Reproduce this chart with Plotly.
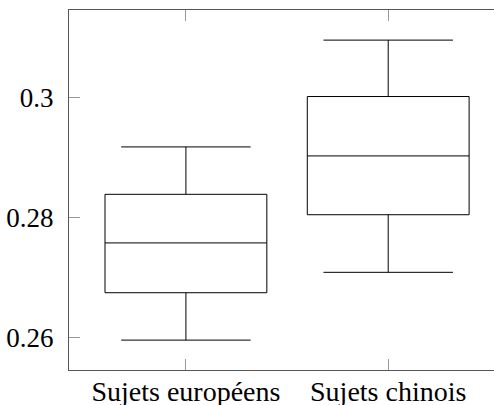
import plotly.graph_objects as go

categories = ["Sujets européens", "Sujets chinois"]
lower_whisker = [0.2596, 0.2709]
q1 = [0.2675, 0.2805]
median = [0.2758, 0.2903]
q3 = [0.2839, 0.3002]
upper_whisker = [0.2918, 0.3096]

y_tickvals = [0.26, 0.28, 0.30]
y_ticktext = ["0.26", "0.28", "0.3"]

fig = go.Figure()
fig.add_trace(go.Box(
    x=categories,
    q1=q1, median=median, q3=q3,
    lowerfence=lower_whisker, upperfence=upper_whisker,
    width=0.8, whiskerwidth=0.8,
    fillcolor="white",
    line=dict(color="black", width=1),
    boxpoints=False,
    hoverinfo="skip",
    showlegend=False,
))

font_family = "Liberation Serif, DejaVu Serif, serif"
fig.update_layout(
    width=494, height=405,
    margin=dict(l=69, r=0, t=10, b=35, autoexpand=False),
    paper_bgcolor="white", plot_bgcolor="white",
    font=dict(family=font_family, size=27, color="black"),
    xaxis=dict(
        type="category",
        range=[-0.578, 1.523],
        automargin=False,
        showline=True, linecolor="#555", linewidth=1,
        mirror="ticks",
        ticks="inside", ticklen=11, tickcolor="#999", tickwidth=1,
        showgrid=False, zeroline=False,
        ticklabelstandoff=-4,
        tickfont=dict(family=font_family, size=28),
    ),
    yaxis=dict(
        range=[0.25462, 0.31462],
        automargin=False,
        tickvals=y_tickvals, ticktext=y_ticktext,
        showline=True, linecolor="#555", linewidth=1,
        mirror=False,
        ticks="inside", ticklen=11, tickcolor="#999", tickwidth=1,
        showgrid=False, zeroline=False,
        ticklabelstandoff=9,
        tickfont=dict(family=font_family, size=27),
    ),
)

fig.write_html(
    "out.html",
    config={"displayModeBar": False, "staticPlot": True},
    post_script="document.body.style.margin='0';document.body.style.overflow='hidden';",
)
